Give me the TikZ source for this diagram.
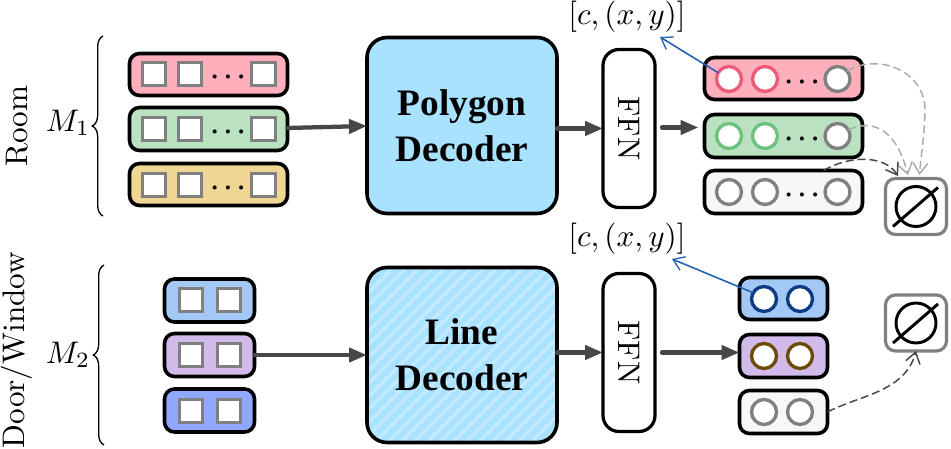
\RequirePackage{fix-cm}
\documentclass[tikz,border=0pt]{standalone}
\usepackage{fontspec}
\usetikzlibrary{arrows.meta,decorations.pathreplacing,calc}
\newfontfamily\tbf{Liberation Serif}
\definecolor{cRed}{HTML}{FFAEBB}
\definecolor{cGreen}{HTML}{BBE2C0}
\definecolor{cYel}{HTML}{EFD793}
\definecolor{cWhite}{HTML}{F7F7F7}
\definecolor{cBlueA}{HTML}{A3C8F5}
\definecolor{cPurp}{HTML}{D2BAEA}
\definecolor{cBlueB}{HTML}{90A8FF}
\definecolor{cDec}{HTML}{A8E2FF}
\definecolor{cRing}{HTML}{EE5B78}
\definecolor{gRing}{HTML}{6CC27F}
\definecolor{nRing}{HTML}{0B3C83}
\definecolor{bRing}{HTML}{6E4B05}
\definecolor{cArr}{HTML}{2462B6}
\tikzset{
  wh/.style 2 args={minimum width=#1*0.75pt,minimum height=#2*0.75pt,inner sep=0pt,outer sep=0pt},
  bar/.style={draw=black,line width=2.7pt,rounded corners=7.5pt},
  dec/.style={draw=black,line width=2.7pt,rounded corners=15pt,fill=cDec,align=center,font=\tbf\bfseries\fontsize{28}{34.5}\selectfont},
  ffnbox/.style={draw=black,line width=2.4pt,rounded corners=12pt,fill=white},
  sq/.style={draw=black!50,line width=2.5pt,fill=white,wh={23.5}{23.5}},
  ring/.style={circle,line width=2.5pt,fill=white,wh={25}{25}},
  bigtxt/.style={font=\fontsize{10}{12}\selectfont,inner sep=0pt,scale=2.34},
  fat/.style={draw=black!72,line width=3.2pt,-{Triangle[length=13.5pt,width=10.5pt]},line cap=round},
  barb/.style={draw=cArr,line width=1.2pt,-{Straight Barb[length=8pt,width=11pt,line width=1pt]}},
  dashg/.style={draw=black!33,line width=1.1pt,dash pattern=on 6pt off 3pt,-{Straight Barb[length=8pt,width=11pt]}},
  dashd/.style={draw=black!72,line width=1.1pt,dash pattern=on 6pt off 3pt,-{Straight Barb[length=8pt,width=11pt]}},
  nullbox/.style={draw=black!50,line width=2.4pt,rounded corners=7.5pt,fill=white},
  brc/.style={draw=black,line width=1pt,decorate,decoration={brace,amplitude=8pt,aspect=0.5}},
  dotsn/.style={font=\fontsize{10}{12}\selectfont\boldmath,inner sep=0pt,scale=1.95},
}
\begin{document}
\begin{tikzpicture}[x=0.75pt,y=-0.75pt]
\useasboundingbox (0,0) rectangle (951,449);
% side labels
\node[bigtxt,rotate=90] (room) at (17,126) {Room};
\node[bigtxt,rotate=90] (door) at (17,350) {Door/Window};
\coordinate (b1a) at (103,216);
\coordinate (b1b) at (103,36);
\coordinate (b2a) at (104,445);
\coordinate (b2b) at (104,265);
\draw[brc] (b1a) -- (b1b);
\draw[brc] (b2a) -- (b2b);
\node[bigtxt] (m1) at (68,123) {$M_1$};
\node[bigtxt] (m2) at (68,355) {$M_2$};
% left upper bars
\node[bar,fill=cRed,wh={158}{42}] (ra) at (208.5,74.5) {};
\node[bar,fill=cGreen,wh={158}{43}] (rb) at (208.5,129) {};
\node[bar,fill=cYel,wh={158}{42}] (rc) at (208.5,184.5) {};
\foreach \r/\y in {a/74,b/129,c/185}{
  \node[sq] (ra\r1) at (154,\y) {};
  \node[sq] (ra\r2) at (190,\y) {};
  \node[sq] (ra\r3) at (263.5,\y) {};
  \node[dotsn] (ra\r d) at (228,\y+3) {$\cdots$};
}
% left lower bars
\node[bar,fill=cBlueA,wh={90}{43}] (da) at (209.5,300.5) {};
\node[bar,fill=cPurp,wh={90}{43}] (db) at (209.5,355) {};
\node[bar,fill=cBlueB,wh={90}{43}] (dc) at (209.5,410.5) {};
\foreach \r/\y in {a/300,b/355,c/411}{
  \node[sq] (da\r1) at (191,\y) {};
  \node[sq] (da\r2) at (229,\y) {};
}
% decoders
\node[dec,wh={190}{176}] (pd) at (462,125.5) {Polygon\\Decoder};
\node[dec,wh={190}{175},path picture={
  \foreach \i in {-24,...,24}{
    \draw[white,opacity=0.3,line width=2.6pt] (\i*13-120,120) -- (\i*13+120,-120);
  }
}] (ld) at (462,355) {};
\node[font=\tbf\bfseries\fontsize{28}{34.5}\selectfont,align=center,inner sep=0pt] (ldt) at (462,355) {Line\\Decoder};
% FFN
\node[ffnbox,wh={52}{158}] (fa) at (629,128.5) {};
\node[ffnbox,wh={52}{158}] (fb) at (629,352.5) {};
\node[bigtxt,rotate=-90] (fat) at (fa.center) {FFN};
\node[bigtxt,rotate=-90] (fbt) at (fb.center) {FFN};
% right upper bars
\node[bar,fill=cRed,wh={158}{42}] (oa) at (783.5,78.5) {};
\node[bar,fill=cGreen,wh={158}{43}] (ob) at (783.5,136) {};
\node[bar,fill=cWhite,wh={158}{43}] (oc) at (783.5,192) {};
\foreach \r/\y/\c in {a/79/cRing,b/136/gRing,c/192/black!50}{
  \node[ring,draw=\c] (o\r1) at (729,\y) {};
  \node[ring,draw=\c] (o\r2) at (765,\y) {};
  \node[ring,draw=black!50] (o\r3) at (837.5,\y) {};
  \node[dotsn] (o\r d) at (802,\y+3) {$\cdots$};
}
% right lower bars
\node[bar,fill=cBlueA,wh={88}{42}] (qa) at (783.5,298.5) {};
\node[bar,fill=cPurp,wh={88}{43}] (qb) at (783.5,356) {};
\node[bar,fill=cWhite,wh={88}{43}] (qc) at (783.5,412) {};
\foreach \r/\y/\c in {a/299/nRing,b/356/bRing,c/412/black!50}{
  \node[ring,draw=\c] (q\r1) at (764,\y) {};
  \node[ring,draw=\c] (q\r2) at (800,\y) {};
}
% null boxes
\node[nullbox,wh={61}{56}] (na) at (916,206.5) {};
\node[nullbox,wh={61}{56}] (nb) at (916,323) {};
\foreach \n in {na,nb}{
  \node[circle,draw=black,line width=2.2pt,wh={40}{40}] (\n c) at (\n.center) {};
  \coordinate (\n s) at ($(\n.center)+(-23,20)$);
  \coordinate (\n e) at ($(\n.center)+(22,-19)$);
  \draw[black,line width=2.2pt] (\n s) -- (\n e);
}
% labels
\node[bigtxt] (la) at (627,17) {$[c,(x,y)]$};
\node[bigtxt] (lb) at (627,239) {$[c,(x,y)]$};
% main arrows
\coordinate (rs) at ($(rb.east)+(0,-1)$);
\coordinate (re) at ($(pd.west)+(0,0.5)$);
\draw[fat] (rs) -- (re);
\draw[fat] (db.east) -- (ld.west);
\draw[fat] (pd.east |- fa.west) -- (fa.west);
\draw[fat] (ld.east |- fb.west) -- (fb.west);
\coordinate (aa) at ($(fa.east)+(7,-1)$);
\coordinate (ab) at ($(oa.west)+(-6,49)$);
\draw[fat] (aa) -- (ab);
\coordinate (ba) at ($(fb.east)+(7,0)$);
\draw[fat] (ba) -- (qb.west |- ba);
% blue arrows
\coordinate (ta) at (660,37);
\coordinate (tb) at (672,259);
\draw[barb] (oa1.150) -- (ta);
\draw[barb] (qa1.150) -- (tb);
% dashed
\coordinate (ga) at (919.5,175);
\coordinate (gb) at (908,175);
\coordinate (gc) at (898,176);
\draw[dashg] (oa3.40) .. controls (880,52) and (927,72) .. (925,113) .. controls (924,140) and (921,155) .. (ga);
\draw[dashg] (ob3.30) .. controls (870,120) and (895,125) .. (gb);
\draw[dashd] (oc.north) ++(40,0) .. controls (850,155) and (885,155) .. (gc);
\draw[dashd] (qc.east) .. controls (860,395) and (905,392) .. (nb.south);
\end{tikzpicture}
\end{document}
